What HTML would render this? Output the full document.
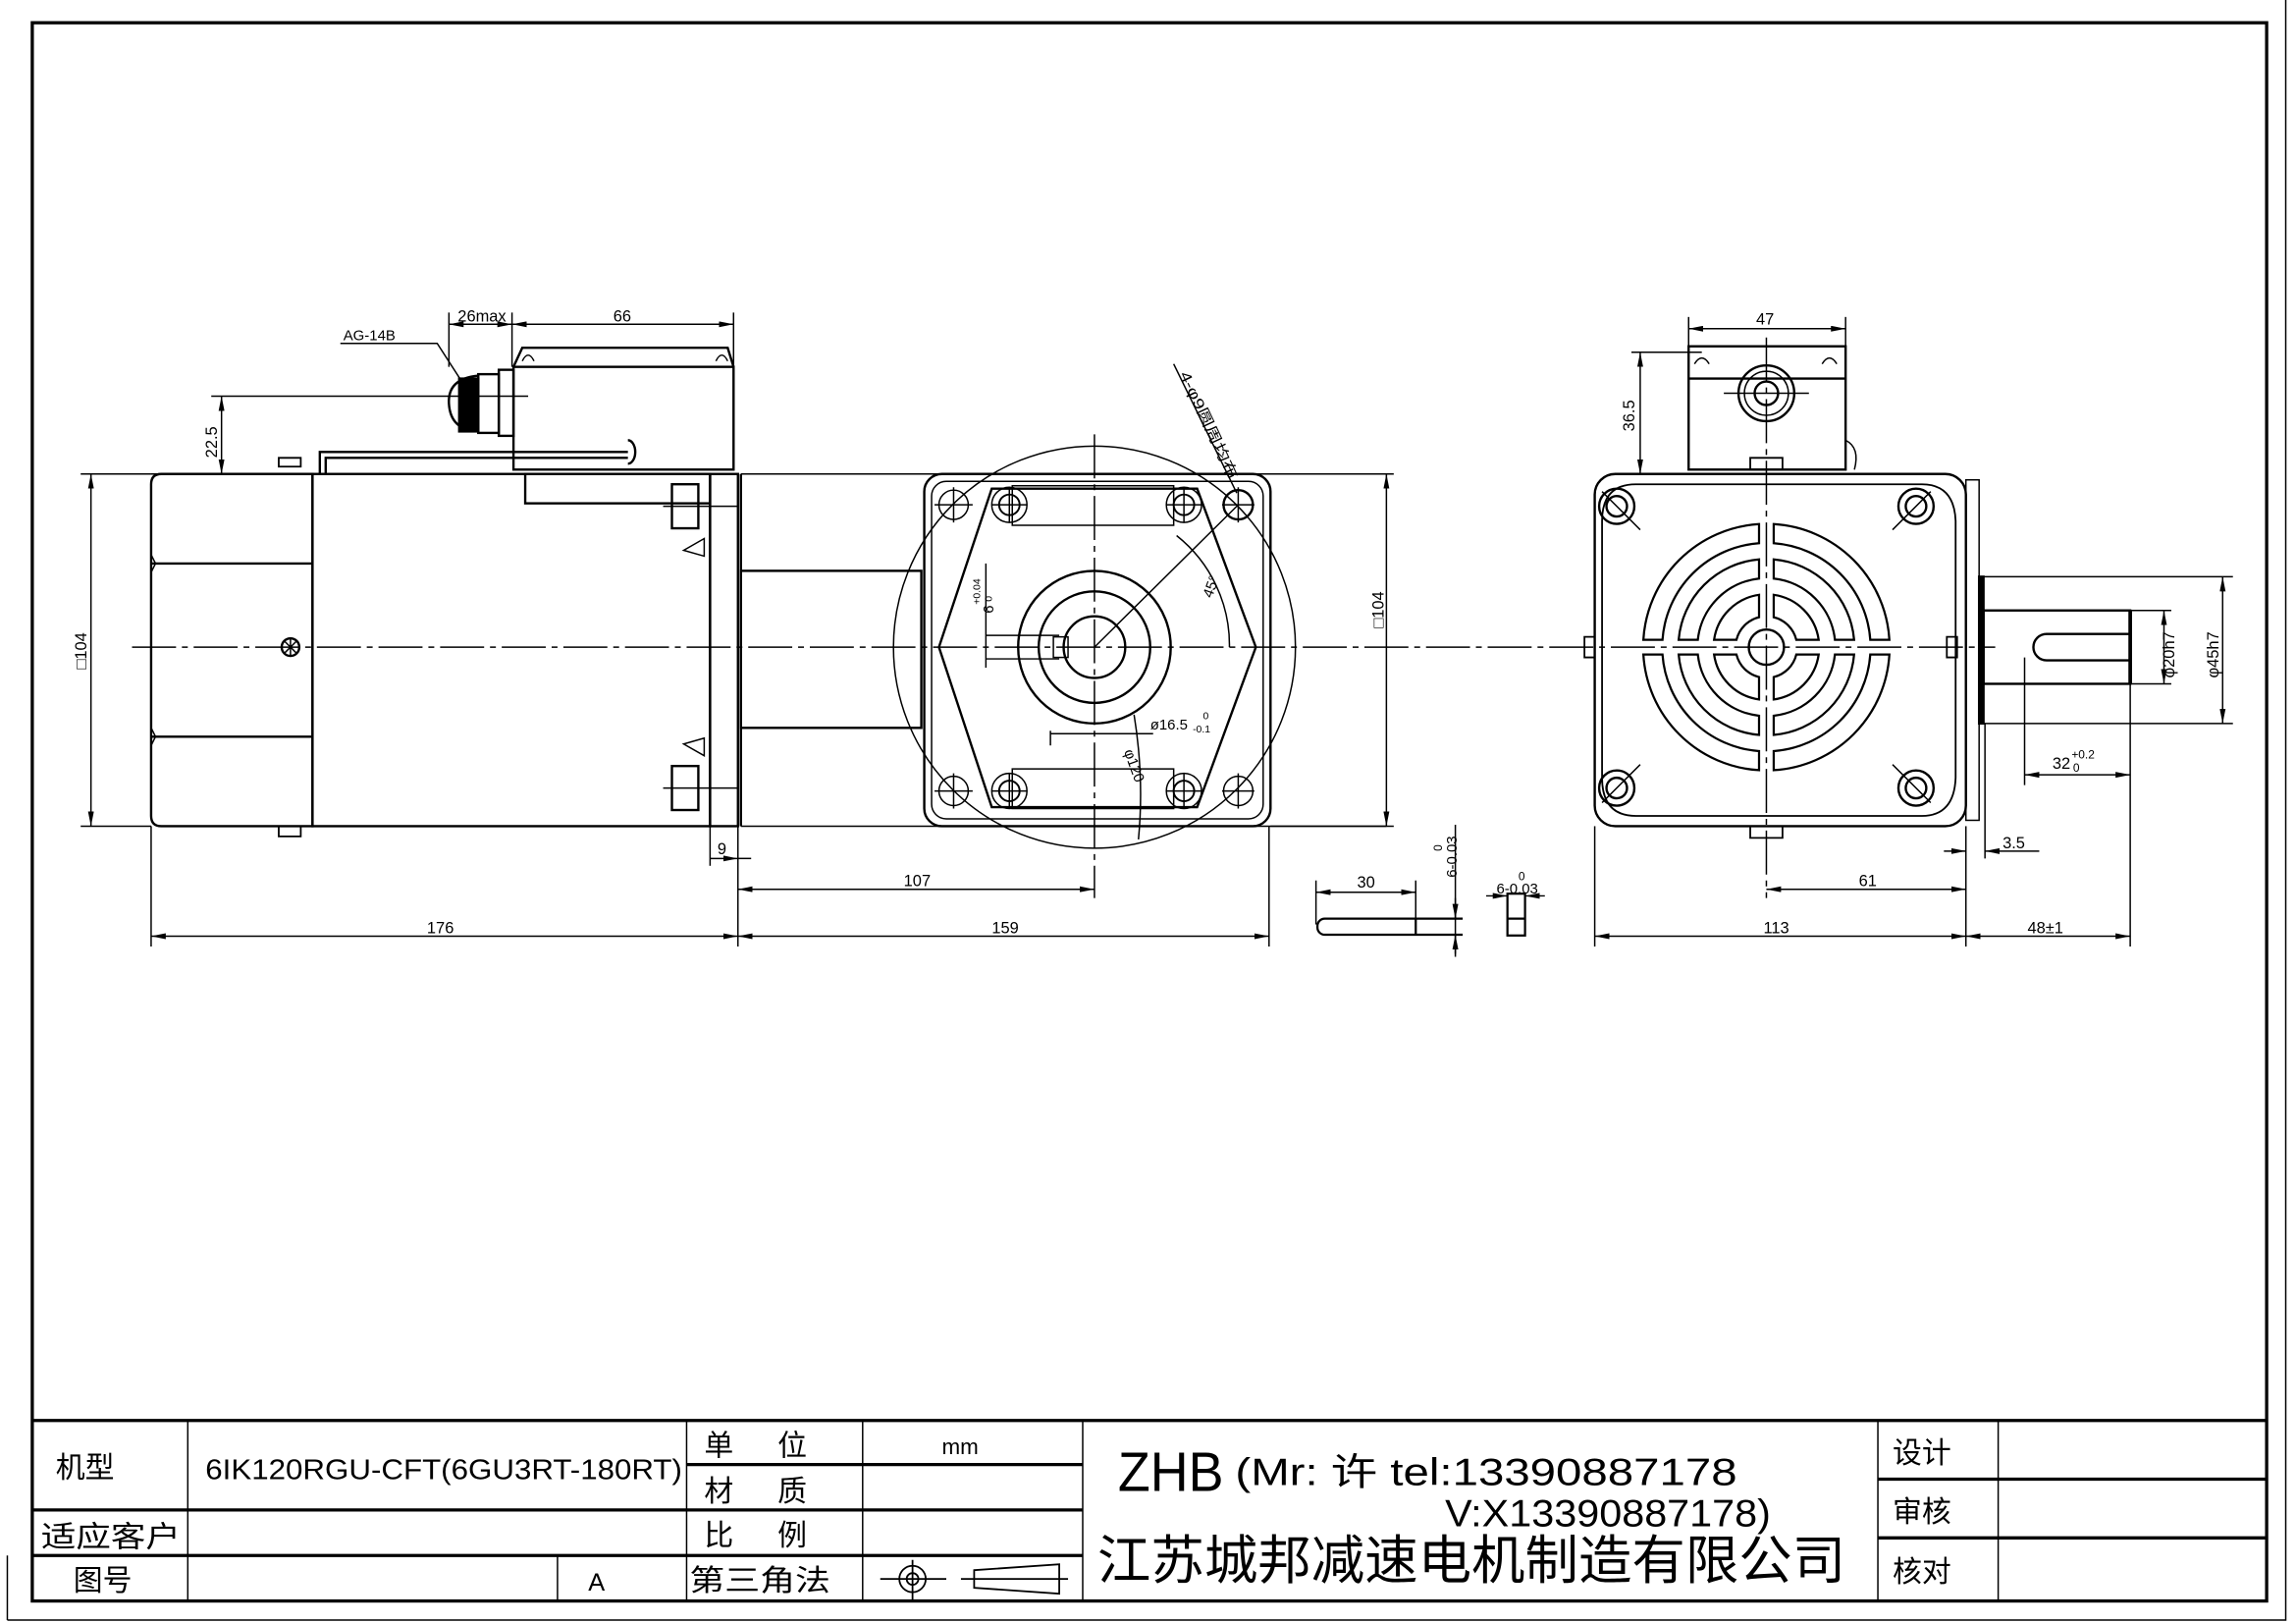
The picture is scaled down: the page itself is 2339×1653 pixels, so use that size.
<!DOCTYPE html>
<html><head><meta charset="utf-8"><style>
html,body{margin:0;padding:0;background:#fff;}
svg{display:block;}
text{font-family:"Liberation Sans","Noto Sans CJK SC",sans-serif;fill:#000;}
</style></head><body>
<svg width="2339" height="1653" viewBox="0 0 1565 1106" preserveAspectRatio="none" xmlns="http://www.w3.org/2000/svg">
<defs>
<marker id="a" viewBox="0 0 10 4" refX="10" refY="2" markerWidth="10" markerHeight="4" orient="auto-start-reverse" markerUnits="userSpaceOnUse"><path d="M0,0L10,2L0,4z" fill="#000"/></marker>
<g id="q" fill="none" stroke="#000" stroke-width="1.5">
<path d="M5,-35.65A36,36 0 0 1 35.65,-5L20.4,-5A21,21 0 0 0 5,-20.4Z"/>
<path d="M5,-59.79A60,60 0 0 1 59.79,-5L46.73,-5A47,47 0 0 0 5,-46.73Z"/>
<path d="M5,-83.85A84,84 0 0 1 83.85,-5L70.82,-5A71,71 0 0 0 5,-70.82Z"/>
</g>
</defs>
<rect width="1565" height="1106" fill="#fff"/>
<!-- frames -->
<path d="M5,1104H1558V0" fill="none" stroke="#000" stroke-width="1"/>
<line x1="5" y1="1060" x2="5" y2="1104" stroke="#000" stroke-width="1"/>
<rect x="22" y="15.5" width="1523" height="1075.5" fill="none" stroke="#000" stroke-width="2.2"/>

<!-- title block -->
<g stroke="#000" stroke-width="2.2" fill="none">
<line x1="22" y1="968" x2="1545" y2="968"/>
<line x1="22" y1="1029" x2="738" y2="1029"/>
<line x1="22" y1="1060" x2="738" y2="1060"/>
<line x1="468" y1="998" x2="738" y2="998"/>
<line x1="1280" y1="1008" x2="1545" y2="1008"/>
<line x1="1280" y1="1048" x2="1545" y2="1048"/>
</g>
<g stroke="#000" stroke-width="1" fill="none">
<line x1="128" y1="968" x2="128" y2="1091"/>
<line x1="380" y1="1060" x2="380" y2="1091"/>
<line x1="468" y1="968" x2="468" y2="1091"/>
<line x1="588" y1="968" x2="588" y2="1091"/>
<line x1="738" y1="968" x2="738" y2="1091"/>
<line x1="1280" y1="968" x2="1280" y2="1091"/>
<line x1="1362" y1="968" x2="1362" y2="1091"/>
</g>
<g font-size="20">
<text x="38" y="1007">机型</text>
<text x="28" y="1054" textLength="95" lengthAdjust="spacingAndGlyphs">适应客户</text>
<text x="50" y="1084">图号</text>
<text x="140" y="1008" font-size="19" textLength="325" lengthAdjust="spacingAndGlyphs">6IK120RGU-CFT(6GU3RT-180RT)</text>
<text x="480" y="992">单</text><text x="530" y="992">位</text>
<text x="480" y="1023">材</text><text x="530" y="1023">质</text>
<text x="480" y="1053">比</text><text x="530" y="1053">例</text>
<text x="470" y="1084" textLength="96" lengthAdjust="spacingAndGlyphs">第三角法</text>
<text x="642" y="991" font-size="15">mm</text>
<text x="401" y="1084" font-size="17">A</text>
<text x="1290" y="997">设计</text>
<text x="1290" y="1037">审核</text>
<text x="1290" y="1078">核对</text>
</g>
<text x="762" y="1016" font-size="38" textLength="72" lengthAdjust="spacingAndGlyphs">ZHB</text>
<text x="842" y="1012" font-size="26" textLength="342" lengthAdjust="spacingAndGlyphs">(Mr: 许 tel:13390887178</text>
<text x="985" y="1040" font-size="26" textLength="222" lengthAdjust="spacingAndGlyphs">V:X13390887178)</text>
<text x="748" y="1076" font-size="36" textLength="510" lengthAdjust="spacingAndGlyphs">江苏城邦减速电机制造有限公司</text>
<g stroke="#000" stroke-width="1.2" fill="none">
<circle cx="622" cy="1076" r="9"/><circle cx="622" cy="1076" r="4"/>
<line x1="600" y1="1076" x2="645" y2="1076"/>
<line x1="622" y1="1063" x2="622" y2="1090"/>
<path d="M664,1070L722,1066V1086L664,1082Z"/>
<line x1="655" y1="1076" x2="728" y2="1076"/>
</g>

<!-- ===================== LEFT SIDE VIEW ===================== -->
<g stroke="#000" stroke-width="1.6" fill="none">
<path d="M110,323H213V563H110Q103,563 103,556V330Q103,323 110,323Z"/>
<path d="M103,384H213M103,502H213"/>
<path d="M103,378l3,6l-3,6M103,496l3,6l-3,6" stroke-width="1"/>
<rect x="213" y="323" width="271" height="240"/>
<rect x="484" y="323" width="19" height="240"/>
<path d="M505,323H945M505,563H945" stroke-width="1"/>
<rect x="505" y="389" width="123" height="107"/>
<line x1="505" y1="323" x2="505" y2="563"/>
<rect x="350" y="250" width="150" height="70"/>
<path d="M350,250L356,237H496L500,250"/>
<path d="M356,246q4,-8 8,0M488,246q4,-8 8,0" stroke-width="1"/>
<rect x="358" y="323" width="126" height="20"/>
<rect x="340" y="252" width="10" height="45"/>
<rect x="326" y="255" width="14" height="40"/>
<path d="M326,256Q305,258 306,275Q307,293 326,294" />
<rect x="313" y="258" width="13" height="36" fill="#000"/>
<path d="M218,323V308H428" />
<path d="M222,323V312H428"/>
<path d="M428,300a5,8 0 0 1 0,16"/>
<path d="M190,318h15v-6h-15z M190,563h15v7h-15z" stroke-width="1.2"/>
<circle cx="198" cy="441" r="6"/>
<path d="M194,437l8,8M202,437l-8,8M198,435v12" stroke-width="1"/>
<rect x="458" y="330" width="18" height="30"/>
<rect x="458" y="522" width="18" height="30"/>
<path d="M466,375l14,-8v12zM466,507l14,8v-12z" stroke-width="1"/>
</g>
<g stroke="#000" stroke-width="1" fill="none">
<line x1="452" y1="345" x2="503" y2="345"/><line x1="452" y1="537" x2="503" y2="537"/>
<line x1="90" y1="441" x2="1360" y2="441" stroke-dasharray="30,4,4,4"/>
<line x1="144" y1="270" x2="360" y2="270"/>
<line x1="151" y1="270" x2="151" y2="323" marker-start="url(#a)" marker-end="url(#a)"/>
<line x1="144" y1="323" x2="103" y2="323"/>
<line x1="55" y1="323" x2="103" y2="323"/><line x1="55" y1="563" x2="103" y2="563"/>
<line x1="62" y1="323" x2="62" y2="563" marker-start="url(#a)" marker-end="url(#a)"/>
<line x1="306" y1="213" x2="306" y2="250"/><line x1="349" y1="213" x2="349" y2="250"/><line x1="500" y1="213" x2="500" y2="250"/>
<line x1="306" y1="221" x2="349" y2="221" marker-start="url(#a)" marker-end="url(#a)"/>
<line x1="349" y1="221" x2="500" y2="221" marker-start="url(#a)" marker-end="url(#a)"/>
<path d="M232,234H298L318,265"/>
<line x1="103" y1="563" x2="103" y2="645"/>
<line x1="503" y1="563" x2="503" y2="645"/>
<line x1="484" y1="563" x2="484" y2="590"/>
<line x1="865" y1="563" x2="865" y2="645"/>
<line x1="746" y1="296" x2="746" y2="612" stroke-dasharray="30,4,4,4"/>
<line x1="103" y1="638" x2="503" y2="638" marker-start="url(#a)" marker-end="url(#a)"/>
<line x1="503" y1="638" x2="865" y2="638" marker-start="url(#a)" marker-end="url(#a)"/>
<line x1="503" y1="606" x2="746" y2="606" marker-start="url(#a)" marker-end="url(#a)"/>
<line x1="484" y1="585" x2="503" y2="585" marker-end="url(#a)"/>
<line x1="503" y1="585" x2="512" y2="585"/>
<line x1="866" y1="323" x2="950" y2="323"/><line x1="866" y1="563" x2="950" y2="563"/>
<line x1="945" y1="323" x2="945" y2="563" marker-start="url(#a)" marker-end="url(#a)"/>
</g>
<g font-size="11">
<text x="234" y="232" font-size="10">AG-14B</text>
<text x="312" y="219" font-size="11">26max</text>
<text x="418" y="219">66</text>
<text x="148" y="312" transform="rotate(-90 148 312)">22.5</text>
<text x="59" y="456" transform="rotate(-90 59 456)">□104</text>
<text x="291" y="636">176</text>
<text x="676" y="636">159</text>
<text x="616" y="604">107</text>
<text x="489" y="582">9</text>
<text x="943" y="428" transform="rotate(-90 943 428)">□104</text>
</g>

<!-- ===================== GEARBOX FRONT ===================== -->
<g stroke="#000" stroke-width="1.6" fill="none">
<rect x="630" y="323" width="236" height="240" rx="12"/>
<rect x="635" y="328" width="226" height="230" rx="10" stroke-width="1"/>
<circle cx="746" cy="441" r="137" stroke-width="1"/>
<path d="M676,333H816L856,441L816,550H676L640,441Z"/>
<path d="M690,331H800V358H690Z" stroke-width="1"/>
<path d="M690,551H800V524H690Z" stroke-width="1"/>
<circle cx="746" cy="441" r="52"/>
<circle cx="746" cy="441" r="38"/>
<circle cx="746" cy="441" r="21"/>
<rect x="718" y="434" width="10" height="14" stroke-width="1"/>
<circle cx="650" cy="344" r="10" stroke-width="1"/><circle cx="844" cy="344" r="10"/>
<circle cx="650" cy="539" r="10" stroke-width="1"/><circle cx="844" cy="539" r="10" stroke-width="1"/>
<g stroke-width="1.3">
<circle cx="688" cy="344" r="7"/><circle cx="807" cy="344" r="7"/>
<circle cx="688" cy="539" r="7"/><circle cx="807" cy="539" r="7"/>
<circle cx="688" cy="344" r="12" stroke-width="1"/><circle cx="807" cy="344" r="12" stroke-width="1"/>
<circle cx="688" cy="539" r="12" stroke-width="1"/><circle cx="807" cy="539" r="12" stroke-width="1"/>
</g>
</g>
<g stroke="#000" stroke-width="1" fill="none">
<path d="M637,344h26M676,344h24M795,344h24M833,344h22M637,539h26M676,539h24M795,539h24M833,539h22"/>
<path d="M688,332v24M807,332v24M688,527v24M807,527v24M650,332v24M844,332v24M650,527v24M844,527v24"/>
<line x1="746" y1="441" x2="844" y2="344"/>
<path d="M802,365A95,95 0 0 1 838,441"/>
<path d="M800,248L843,336"/>
<line x1="672" y1="384" x2="672" y2="455"/>
<path d="M672,433h50M672,449h50"/>
<line x1="716" y1="498" x2="716" y2="508"/>
<line x1="716" y1="500" x2="786" y2="500"/>
<path d="M773,487Q780,530 776,572"/>
</g>
<g font-size="10">
<text x="804" y="255" transform="rotate(65 804 255)" textLength="80" lengthAdjust="spacingAndGlyphs">4-φ9圆周均布</text>
<text x="826" y="408" transform="rotate(-70 826 408)">45°</text>
<text x="677" y="418" transform="rotate(-90 677 418)">6</text>
<text x="668" y="412" transform="rotate(-90 668 412)" font-size="7">+0.04</text>
<text x="676" y="410" transform="rotate(-90 676 410)" font-size="7">0</text>
<text x="784" y="497">ø16.5</text><text x="820" y="490" font-size="7">0</text><text x="813" y="499" font-size="7">-0.1</text>
<text x="766" y="512" transform="rotate(70 766 512)">φ120</text>
</g>

<!-- key detail -->
<g stroke="#000" stroke-width="1.5" fill="none">
<path d="M903,626H997M903,637H997M903,626a5,5 0 0 0 -5,5v1a5,5 0 0 0 5,5"/>
<line x1="965" y1="626" x2="965" y2="637"/>
<rect x="1027.5" y="609" width="12" height="28.5"/>
<line x1="1027.5" y1="626" x2="1039.5" y2="626"/>
</g>
<g stroke="#000" stroke-width="1" fill="none">
<line x1="897" y1="600" x2="897" y2="630"/><line x1="965" y1="600" x2="965" y2="626"/>
<line x1="897" y1="608" x2="965" y2="608" marker-start="url(#a)" marker-end="url(#a)"/>
<line x1="992" y1="562" x2="992" y2="652"/>
<line x1="992" y1="612" x2="992" y2="626" marker-end="url(#a)"/>
<line x1="992" y1="650" x2="992" y2="637" marker-end="url(#a)"/>
<line x1="1013" y1="610.5" x2="1027.5" y2="610.5" marker-end="url(#a)"/>
<line x1="1053" y1="610.5" x2="1039.5" y2="610.5" marker-end="url(#a)"/>
</g>
<g font-size="11">
<text x="925" y="605">30</text>
<text x="993" y="598" transform="rotate(-90 993 598)" font-size="10">6-0.03</text>
<text x="983" y="580" transform="rotate(-90 983 580)" font-size="8">0</text>
<text x="1020" y="609" font-size="10">6-0.03</text>
<text x="1035" y="600" font-size="8">0</text>
</g>

<!-- ===================== RIGHT VIEW ===================== -->
<g stroke="#000" stroke-width="1.6" fill="none">
<rect x="1087" y="323" width="253" height="240" rx="14"/>
<rect x="1151" y="236" width="107" height="84"/>
<line x1="1151" y1="258" x2="1258" y2="258"/>
<path d="M1155,248q5,-8 10,0M1242,248q5,-8 10,0" stroke-width="1"/>
<circle cx="1204" cy="268" r="19"/><circle cx="1204" cy="268" r="15" stroke-width="1"/><circle cx="1204" cy="268" r="8"/>
<path d="M1258,300q10,5 6,20" stroke-width="1"/>
<path d="M1115,330H1310Q1332,330 1333,355V530Q1332,556 1310,556H1115Q1092,556 1092,530V355Q1092,330 1115,330Z" stroke-width="1.2"/>
<rect x="1340" y="327" width="9" height="232" stroke-width="1"/>
<rect x="1349" y="393" width="3" height="100" fill="#000"/>
<rect x="1352" y="416" width="100" height="50"/>
<line x1="1452" y1="416" x2="1452" y2="466" stroke-width="2.5"/>
<path d="M1452,432H1395a9,9 0 0 0 0,18H1452"/>
<circle cx="1204" cy="441" r="12"/>
<path d="M1193,320h22v-8h-22zM1193,563h22v8h-22z" stroke-width="1.2"/>
<path d="M1080,434h7v14h-7zM1327,434h7v14h-7z" stroke-width="1.2"/>
</g>
<use href="#q" transform="translate(1204,441)"/>
<use href="#q" transform="translate(1204,441) scale(-1,1)"/>
<use href="#q" transform="translate(1204,441) scale(1,-1)"/>
<use href="#q" transform="translate(1204,441) scale(-1,-1)"/>
<g stroke="#000" stroke-width="1.6" fill="none">
<circle cx="1102" cy="345" r="12"/><circle cx="1102" cy="345" r="7"/>
<circle cx="1306" cy="345" r="12"/><circle cx="1306" cy="345" r="7"/>
<circle cx="1102" cy="537" r="12"/><circle cx="1102" cy="537" r="7"/>
<circle cx="1306" cy="537" r="12"/><circle cx="1306" cy="537" r="7"/>
</g>
<g stroke="#000" stroke-width="1" fill="none">
<path d="M1092,335l26,26M1316,335l-26,26M1092,547l26,-26M1316,547l-26,-26"/>
<line x1="1204" y1="230" x2="1204" y2="612" stroke-dasharray="30,4,4,4"/>
<line x1="1175" y1="268" x2="1233" y2="268"/>
<line x1="1151" y1="216" x2="1151" y2="236"/><line x1="1258" y1="216" x2="1258" y2="236"/>
<line x1="1151" y1="224" x2="1258" y2="224" marker-start="url(#a)" marker-end="url(#a)"/>
<line x1="1112" y1="240" x2="1160" y2="240"/>
<line x1="1118" y1="240" x2="1118" y2="323" marker-start="url(#a)" marker-end="url(#a)"/>
<line x1="1087" y1="563" x2="1087" y2="645"/>
<line x1="1340" y1="563" x2="1340" y2="645"/>
<line x1="1452" y1="466" x2="1452" y2="645"/>
<line x1="1353" y1="493" x2="1353" y2="585"/>
<line x1="1087" y1="638" x2="1340" y2="638" marker-start="url(#a)" marker-end="url(#a)"/>
<line x1="1340" y1="638" x2="1452" y2="638" marker-start="url(#a)" marker-end="url(#a)"/>
<line x1="1204" y1="606" x2="1340" y2="606" marker-start="url(#a)" marker-end="url(#a)"/>
<line x1="1325" y1="580" x2="1340" y2="580" marker-end="url(#a)"/>
<line x1="1390" y1="580" x2="1353" y2="580" marker-end="url(#a)"/>
<line x1="1380" y1="448" x2="1380" y2="535"/>
<line x1="1380" y1="528" x2="1452" y2="528" marker-start="url(#a)" marker-end="url(#a)"/>
<line x1="1452" y1="416" x2="1480" y2="416"/><line x1="1452" y1="466" x2="1480" y2="466"/>
<line x1="1475" y1="416" x2="1475" y2="466" marker-start="url(#a)" marker-end="url(#a)"/>
<line x1="1352" y1="393" x2="1522" y2="393"/><line x1="1352" y1="493" x2="1522" y2="493"/>
<line x1="1515" y1="393" x2="1515" y2="493" marker-start="url(#a)" marker-end="url(#a)"/>
</g>
<g font-size="11">
<text x="1197" y="221">47</text>
<text x="1114" y="294" transform="rotate(-90 1114 294)">36.5</text>
<text x="1267" y="604">61</text>
<text x="1202" y="636">113</text>
<text x="1382" y="636">48±1</text>
<text x="1365" y="578">3.5</text>
<text x="1399" y="524">32</text><text x="1412" y="517" font-size="8">+0.2</text><text x="1413" y="526" font-size="8">0</text>
<text x="1482" y="462" transform="rotate(-90 1482 462)">φ20h7</text>
<text x="1512" y="462" transform="rotate(-90 1512 462)">φ45h7</text>
</g>
</svg>
</body></html>
